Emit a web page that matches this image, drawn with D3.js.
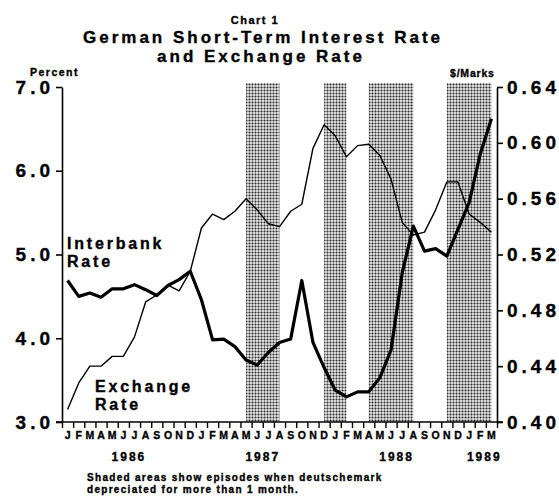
<!DOCTYPE html>
<html>
<head>
<meta charset="utf-8">
<script src="https://cdn.jsdelivr.net/npm/d3@7"></script>
<style>
  body { margin: 0; background: #fff; }
  svg text { font-family: "Liberation Sans", Arial, sans-serif; font-weight: bold; fill: #000; }
  svg text.heavy { stroke: #000; stroke-width: 0.35px; }
</style>
</head>
<body>
<div class="canvas"></div>
<script>
// month letters along the bottom, Jan 1986 .. Mar 1989
const monthLetters = 'JFMAMJJASONDJFMAMJJASONDJFMAMJJASONDJFM'.split('');
const years = ['1986', '1987', '1988', '1989'];
const yearStart = [0, 12, 24, 36];

// interbank rate, percent (left axis, heavy line)
const interbank = [4.69, 4.50, 4.54, 4.49, 4.59, 4.59, 4.64, 4.58, 4.51, 4.63, 4.70, 4.80,
    4.46, 3.98, 3.99, 3.90, 3.74, 3.68, 3.83, 3.95, 3.99, 4.69, 3.95, 3.65,
    3.38, 3.30, 3.36, 3.36, 3.53, 3.86, 4.78, 5.34, 5.04, 5.07, 4.98, 5.30,
    5.62, 6.20, 6.62];

// exchange rate, $/Marks (right axis, thin line)
const exchange = [0.409, 0.428, 0.440, 0.440, 0.447, 0.447, 0.461, 0.486, 0.491, 0.498, 0.494, 0.508,
    0.539, 0.549, 0.545, 0.551, 0.560, 0.552, 0.542, 0.540, 0.551, 0.556, 0.596, 0.613,
    0.605, 0.590, 0.598, 0.599, 0.591, 0.574, 0.543, 0.534, 0.536, 0.552, 0.572, 0.572,
    0.549, 0.543, 0.536];

// episodes of deutschemark depreciation (first and last month index)
const episodes = [[16, 19], [23, 25], [27, 31], [34, 38]];

const leftTicks = [3, 4, 5, 6, 7];
const rightTicks = [0.40, 0.44, 0.48, 0.52, 0.56, 0.60, 0.64];

const width = 559;
const height = 496;
const plotL = 62, plotR = 497, plotT = 87, plotB = 422;

const svg = d3.select('.canvas')
    .append('svg')
    .attr('width', width)
    .attr('height', height);

// halftone pattern for shaded areas
const pat = svg.append('defs').append('pattern')
    .attr('id', 'dots')
    .attr('width', 3)
    .attr('height', 3)
    .attr('patternUnits', 'userSpaceOnUse');
pat.append('rect').attr('width', 3).attr('height', 3).attr('fill', '#d6d6d6');
pat.append('rect').attr('width', 1).attr('height', 3).attr('fill', '#8c8c8c');
pat.append('rect').attr('width', 3).attr('height', 1).attr('fill', '#8c8c8c');
pat.append('rect').attr('width', 1).attr('height', 1).attr('fill', '#333');

const x = d3.scaleBand()
    .domain(d3.range(monthLetters.length))
    .range([plotL, plotR]);
const xc = i => x(i) + x.bandwidth() / 2;

const yL = d3.scaleLinear().domain([3, 7]).range([plotB, plotT]);
const yR = d3.scaleLinear().domain([0.40, 0.64]).range([plotB, plotT]);

// shaded episodes
svg.selectAll('rect.ep')
    .data(episodes)
    .enter()
    .append('rect')
    .attr('class', 'ep')
    .attr('x', d => xc(d[0]))
    .attr('width', d => xc(d[1]) - xc(d[0]))
    .attr('y', plotT - 4)
    .attr('height', plotB - plotT + 4)
    .attr('fill', 'url(#dots)');

// lines
const lineL = d3.line().x((d, i) => xc(i)).y(d => yL(d));
const lineR = d3.line().x((d, i) => xc(i)).y(d => yR(d));

svg.append('path')
    .attr('d', lineR(exchange))
    .attr('fill', 'none')
    .attr('stroke', '#000')
    .attr('stroke-width', 1.4)
    .attr('stroke-linejoin', 'round');

svg.append('path')
    .attr('d', lineL(interbank))
    .attr('fill', 'none')
    .attr('stroke', '#000')
    .attr('stroke-width', 3.2)
    .attr('stroke-linejoin', 'round');

// axes
const yAxisL = d3.axisLeft(yL)
    .tickValues(leftTicks)
    .tickFormat(d3.format('.1f'))
    .tickSize(6)
    .tickSizeOuter(0)
    .tickPadding(2);
const yAxisR = d3.axisRight(yR)
    .tickValues(rightTicks)
    .tickFormat(d3.format('.2f'))
    .tickSize(6)
    .tickSizeOuter(0)
    .tickPadding(4);

const gL = svg.append('g').attr('transform', `translate(${plotL}, 0)`).call(yAxisL);
const gR = svg.append('g').attr('transform', `translate(${plotR}, 0)`).call(yAxisR);

[gL, gR].forEach(g => {
    g.select('.domain').attr('stroke-width', 1.6);
    g.selectAll('.tick line').attr('stroke-width', 1.6);
    g.selectAll('.tick text')
        .attr('class', 'heavy')
        .style('font-size', '19px')
        .style('letter-spacing', '4px')
        .style('font-family', '"Liberation Sans", Arial, sans-serif')
        .style('font-weight', 'bold');
});

// x axis ticks at month boundaries
const xb = d3.scaleLinear().domain([0, monthLetters.length]).range([plotL, plotR]);
const xAxis = d3.axisBottom(xb)
    .tickValues(d3.range(monthLetters.length + 1))
    .tickFormat('')
    .tickSize(6)
    .tickSizeOuter(0);
const gX = svg.append('g').attr('transform', `translate(0, ${plotB})`).call(xAxis);
gX.select('.domain').attr('d', `M${plotL - 6},0H${plotR + 6}`).attr('stroke-width', 1.6);
gX.selectAll('.tick line').attr('stroke-width', 1.4);

svg.selectAll('text.month')
    .data(monthLetters)
    .enter()
    .append('text')
    .attr('class', 'month heavy')
    .attr('x', (d, i) => xc(i))
    .attr('y', plotB + 17)
    .attr('text-anchor', 'middle')
    .style('font-size', '10.5px')
    .text(d => d);

svg.selectAll('text.year')
    .data(years)
    .enter()
    .append('text')
    .attr('class', 'year heavy')
    .attr('x', (d, i) => {
        const last = Math.min(yearStart[i] + 11, monthLetters.length - 1);
        return (xc(yearStart[i]) + xc(last)) / 2 + (i === years.length - 1 ? 4 : 0);
    })
    .attr('y', plotB + 39)
    .attr('text-anchor', 'middle')
    .style('font-size', '12px')
    .style('letter-spacing', '2px')
    .text(d => d);

// titles
svg.append('text').attr('class', 'heavy').attr('x', 255).attr('y', 24).attr('text-anchor', 'middle')
    .style('font-size', '11px').style('letter-spacing', '1.5px').text('Chart 1');
svg.append('text').attr('class', 'heavy').attr('x', 263).attr('y', 43).attr('text-anchor', 'middle')
    .style('font-size', '17px').style('letter-spacing', '3px').text('German Short-Term Interest Rate');
svg.append('text').attr('class', 'heavy').attr('x', 261).attr('y', 62).attr('text-anchor', 'middle')
    .style('font-size', '17px').style('letter-spacing', '3px').text('and Exchange Rate');

svg.append('text').attr('class', 'heavy').attr('x', 30).attr('y', 76)
    .style('font-size', '10.5px').style('letter-spacing', '1.5px').text('Percent');
svg.append('text').attr('class', 'heavy').attr('x', 450).attr('y', 77)
    .style('font-size', '10.5px').style('letter-spacing', '0.8px').text('$/Marks');

// series labels
const seriesLabel = (lines, x0, y0) => {
    lines.forEach((t, i) => {
        svg.append('text').attr('class', 'heavy').attr('x', x0).attr('y', y0 + i * 18)
            .style('font-size', '16px').style('letter-spacing', '2.8px').text(t);
    });
};
seriesLabel(['Interbank', 'Rate'], 67, 249);
seriesLabel(['Exchange', 'Rate'], 95, 392);

// footnote
svg.append('text').attr('class', 'heavy').attr('x', 87).attr('y', 481)
    .style('font-size', '10px').style('letter-spacing', '1.3px')
    .text('Shaded areas show episodes when deutschemark');
svg.append('text').attr('class', 'heavy').attr('x', 87).attr('y', 493)
    .style('font-size', '10px').style('letter-spacing', '1.3px')
    .text('depreciated for more than 1 month.');
</script>
</body>
</html>
